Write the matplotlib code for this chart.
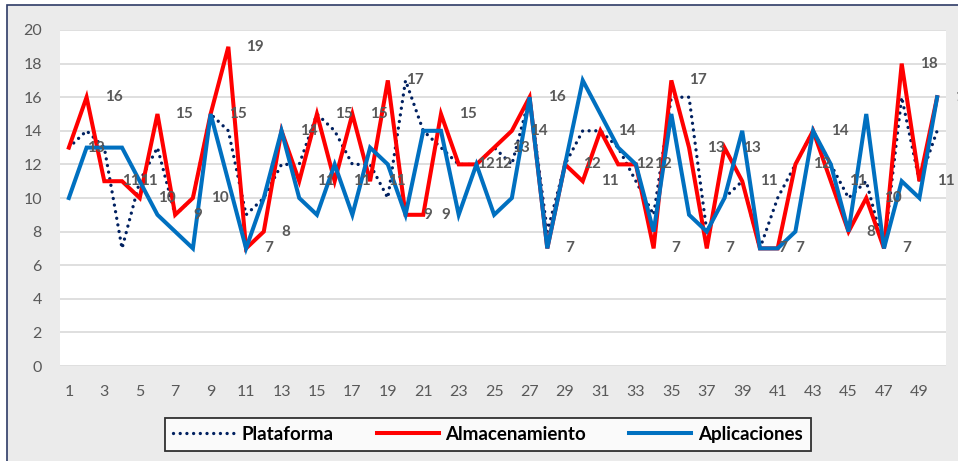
import matplotlib
matplotlib.use("Agg")
import matplotlib.pyplot as plt
from matplotlib.patches import Rectangle

# data
dias = list(range(1, 51))
plataforma = [13, 14, 13, 7, 11, 13, 9, 10, 15, 14,
              9, 10, 12, 12, 15, 14, 12, 12, 10, 17,
              14, 13, 12, 12, 13, 12, 16, 8, 12, 14,
              14, 13, 11, 9, 16, 16, 8, 10, 11, 7,
              10, 12, 14, 12, 10, 11, 7, 16, 11, 14]
almacenamiento = [13, 16, 11, 11, 10, 15, 9, 10, 15, 19,
                  7, 8, 14, 11, 15, 11, 15, 11, 17, 9,
                  9, 15, 12, 12, 13, 14, 16, 7, 12, 11,
                  14, 12, 12, 7, 17, 13, 7, 13, 11, 7,
                  7, 12, 14, 11, 8, 10, 7, 18, 11, 16]
aplicaciones = [10, 13, 13, 13, 11, 9, 8, 7, 15, 11,
                7, 10, 14, 10, 9, 12, 9, 13, 12, 9,
                14, 14, 9, 12, 9, 10, 16, 7, 12, 17,
                15, 13, 12, 8, 15, 9, 8, 10, 14, 7,
                7, 8, 14, 12, 8, 15, 7, 11, 10, 16]
y_ticks = list(range(0, 21, 2))
x_ticks = list(range(1, 51, 2))

plt.rcParams['font.family'] = ['Lato', 'DejaVu Sans']

fig = plt.figure(figsize=(9.58, 4.61), dpi=100)
fig.patch.set_facecolor('white')
# outer chart frame (grey area with dark edge)
frame = Rectangle((7 / 958, -0.1), 1.2, 1 - 5 / 461 + 0.1,
                  transform=fig.transFigure, facecolor='#ebebeb',
                  edgecolor='#2e3b66', linewidth=1.2, zorder=-10)
fig.patches.append(frame)

ax = fig.add_axes([60 / 958, 1 - 366 / 461, 886 / 958, 336 / 461])
ax.set_facecolor('white')

ax.plot(dias, plataforma, color='#002060', linewidth=2.4,
        linestyle=(0, (0.01, 2.0)), dash_capstyle='round',
        solid_capstyle='round', label='Plataforma', zorder=3)
ax.plot(dias, almacenamiento, color='#ff0000', linewidth=2.9,
        solid_joinstyle='miter', label='Almacenamiento', zorder=4)
ax.plot(dias, aplicaciones, color='#0070c0', linewidth=2.9,
        solid_joinstyle='miter', label='Aplicaciones', zorder=5)

# value labels of Almacenamiento, to the right of each point
for d, v in zip(dias, almacenamiento):
    ax.annotate(str(v), (d, v), xytext=(13, 0), textcoords='offset points',
                ha='left', va='center', fontsize=11, fontweight='bold',
                color='#595959', zorder=6, annotation_clip=False)

ax.set_xlim(0.5, 50.5)
ax.set_ylim(0, 20)
ax.set_yticks(y_ticks)
ax.set_xticks(x_ticks)
ax.tick_params(axis='both', length=0, labelsize=11.5, labelcolor='#595959')
ax.tick_params(axis='y', pad=13)
ax.tick_params(axis='x', pad=14)
ax.grid(axis='y', color='#d9d9d9', linewidth=1.2)
ax.set_axisbelow(True)
for s in ax.spines.values():
    s.set_visible(False)

leg = fig.legend(loc='center', bbox_to_anchor=(488 / 958, 1 - 434.5 / 461),
                 ncol=3, frameon=True, fancybox=False, handlelength=3.3,
                 columnspacing=2.3, handletextpad=0.35,
                 prop={'weight': 'bold', 'size': 13.5}, borderpad=0.45,
                 borderaxespad=0)
leg.get_frame().set_edgecolor('black')
leg.get_frame().set_linewidth(1.3)
leg.get_frame().set_facecolor('white')

fig.savefig('out.png', dpi=100, facecolor=fig.get_facecolor())
